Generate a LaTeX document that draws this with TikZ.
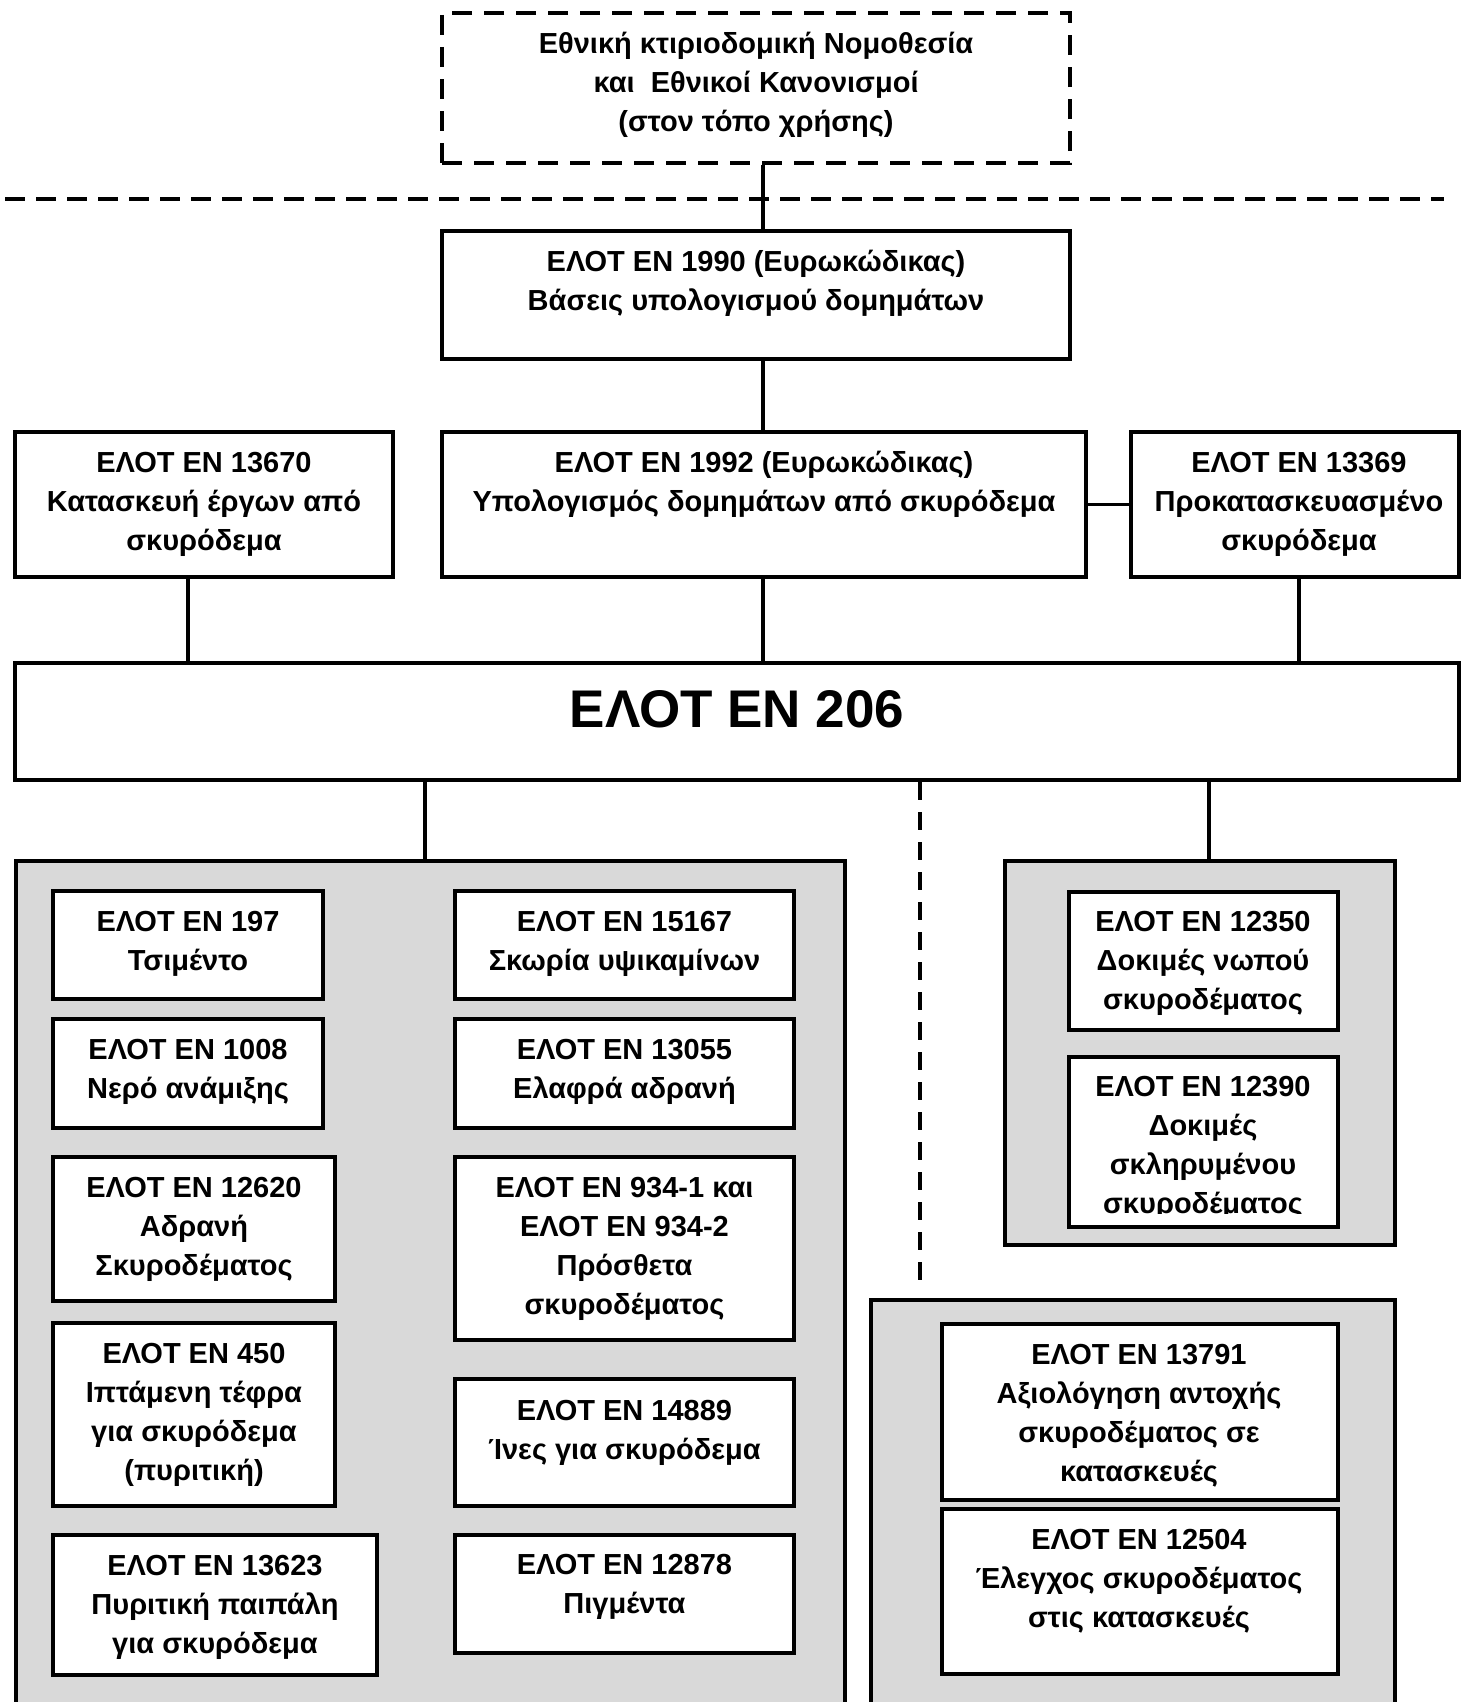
\documentclass[tikz,border=0pt]{standalone}
\usepackage{fontspec}
\setmainfont{Liberation Sans}
\definecolor{grp}{RGB}{217,217,217}
\tikzset{
  boxst/.style={draw, line width=4.5pt, fill=white, inner sep=0pt, rectangle},
  grpst/.style={draw, line width=4.5pt, fill=grp, inner sep=0pt, rectangle},
  dashbox/.style={draw, line width=4.5pt, dash pattern=on 20pt off 12pt, inner sep=0pt, rectangle},
  txt/.style={font=\bfseries\fontsize{29}{39}\selectfont, align=center, inner sep=0pt, anchor=base},
  bigtxt/.style={font=\bfseries\fontsize{53}{60}\selectfont, inner sep=0pt, anchor=base},
  conn/.style={line width=4pt},
  thinconn/.style={line width=2.5pt},
  dashconn/.style={line width=4pt, dash pattern=on 18pt off 12pt},
  sepline/.style={line width=4pt, dash pattern=on 20pt off 11pt},
}
\newcommand{\rbox}[6]{\node[#1, minimum width={#4-#2}, minimum height={#5-#3}] (#6) at ({(#2+#4)/2},{(#3+#5)/2}) {};}
\begin{document}
\begin{tikzpicture}[x=1pt,y=-1pt]
\useasboundingbox (0,0) rectangle (1474,1702);
\fill[white] (0,0) rectangle (1474,1702);

% groups
\rbox{grpst}{16}{861}{845}{1708}{gL}
\rbox{grpst}{1005}{861}{1395}{1245}{gRT}
\rbox{grpst}{871}{1300}{1395}{1708}{gRB}

% separator
\coordinate (sepL) at (5,199);
\coordinate (sepR) at (1444,199);
\draw[sepline] (sepL) -- (sepR);

% top boxes
\rbox{dashbox}{442}{13}{1070}{163}{title}
\rbox{boxst}{442}{231}{1070}{359}{b1990}
\rbox{boxst}{15}{432}{393}{577}{b13670}
\rbox{boxst}{442}{432}{1086}{577}{b1992}
\rbox{boxst}{1131}{432}{1459}{577}{b13369}
\rbox{boxst}{15}{663}{1459}{780}{b206}

% left group boxes
\rbox{boxst}{53}{891}{323}{999}{b197}
\rbox{boxst}{53}{1019}{323}{1128}{b1008}
\rbox{boxst}{53}{1157}{335}{1301}{b12620}
\rbox{boxst}{53}{1323}{335}{1506}{b450}
\rbox{boxst}{53}{1535}{377}{1675}{b13623}
\rbox{boxst}{455}{891}{794}{999}{b15167}
\rbox{boxst}{455}{1019}{794}{1128}{b13055}
\rbox{boxst}{455}{1157}{794}{1340}{b934}
\rbox{boxst}{455}{1379}{794}{1506}{b14889}
\rbox{boxst}{455}{1535}{794}{1653}{b12878}

% right groups boxes
\rbox{boxst}{1069}{892}{1338}{1030}{b12350}
\rbox{boxst}{1069}{1057}{1338}{1227}{b12390}
\rbox{boxst}{942}{1324}{1338}{1500}{b13791}
\rbox{boxst}{942}{1509}{1338}{1674}{b12504}

% connectors
\coordinate (xa) at (763,0);
\coordinate (xb) at (188,0);
\coordinate (xc) at (1299,0);
\coordinate (xd) at (425,0);
\coordinate (xe) at (1209,0);
\coordinate (xf) at (920,0);
\coordinate (dEnd) at (920,1290);
\draw[conn] (title.south -| xa) -- (b1990.north -| xa);
\draw[conn] (b1990.south -| xa) -- (b1992.north -| xa);
\draw[thinconn] (b1992.east) -- (b13369.west);
\draw[conn] (b13670.south -| xb) -- (b206.north -| xb);
\draw[conn] (b1992.south -| xa) -- (b206.north -| xa);
\draw[conn] (b13369.south -| xc) -- (b206.north -| xc);
\draw[conn] (b206.south -| xd) -- (gL.north -| xd);
\draw[conn] (b206.south -| xe) -- (gRT.north -| xe);
\draw[dashconn] (b206.south -| xf) -- (dEnd);

% texts (anchor = baseline of last line)
\node[txt] (ttitle) at (756,131) {Εθνική κτιριοδομική Νομοθεσία\\και~ Εθνικοί Κανονισμοί\\(στον τόπο χρήσης)};
\node[txt] (t1990) at (756,310) {ΕΛΟΤ ΕΝ 1990 (Ευρωκώδικας)\\Βάσεις υπολογισμού δομημάτων};
\node[txt] (t13670) at (204,550) {ΕΛΟΤ ΕΝ 13670\\Κατασκευή έργων από\\σκυρόδεμα};
\node[txt] (t1992) at (764,511) {ΕΛΟΤ ΕΝ 1992 (Ευρωκώδικας)\\Υπολογισμός δομημάτων από σκυρόδεμα};
\node[txt] (t13369) at (1299,550) {ΕΛΟΤ ΕΝ 13369\\Προκατασκευασμένο\\σκυρόδεμα};
\node[bigtxt] (t206) at (737,727) {ΕΛΟΤ ΕΝ 206};

\node[txt] (t197) at (188,970) {ΕΛΟΤ ΕΝ 197\\Τσιμέντο};
\node[txt] (t1008) at (188,1098) {ΕΛΟΤ ΕΝ 1008\\Νερό ανάμιξης};
\node[txt] (t12620) at (194,1275) {ΕΛΟΤ ΕΝ 12620\\Αδρανή\\Σκυροδέματος};
\node[txt] (t450) at (194,1480) {ΕΛΟΤ ΕΝ 450\\Ιπτάμενη τέφρα\\για σκυρόδεμα\\(πυριτική)};
\node[txt] (t13623) at (215,1653) {ΕΛΟΤ ΕΝ 13623\\Πυριτική παιπάλη\\για σκυρόδεμα};
\node[txt] (t15167) at (624.5,970) {ΕΛΟΤ ΕΝ 15167\\Σκωρία υψικαμίνων};
\node[txt] (t13055) at (624.5,1098) {ΕΛΟΤ ΕΝ 13055\\Ελαφρά αδρανή};
\node[txt] (t934) at (624.5,1314) {ΕΛΟΤ ΕΝ 934-1 και\\ΕΛΟΤ ΕΝ 934-2\\Πρόσθετα\\σκυροδέματος};
\node[txt] (t14889) at (624.5,1459) {ΕΛΟΤ ΕΝ 14889\\Ίνες για σκυρόδεμα};
\node[txt] (t12878) at (624.5,1613) {ΕΛΟΤ ΕΝ 12878\\Πιγμέντα};

\node[txt] (t12350) at (1203,1009) {ΕΛΟΤ ΕΝ 12350\\Δοκιμές νωπού\\σκυροδέματος};
\begin{scope}
\clip (1069,1057) rectangle (1338,1213);
\node[txt] (t12390) at (1203,1213) {ΕΛΟΤ ΕΝ 12390\\Δοκιμές\\σκληρυμένου\\σκυροδέματος};
\end{scope}
\node[txt] (t13791) at (1139,1481) {ΕΛΟΤ ΕΝ 13791\\Αξιολόγηση αντοχής\\σκυροδέματος σε\\κατασκευές};
\node[txt] (t12504) at (1139,1627) {ΕΛΟΤ ΕΝ 12504\\Έλεγχος σκυροδέματος\\στις κατασκευές};
\end{tikzpicture}
\end{document}
